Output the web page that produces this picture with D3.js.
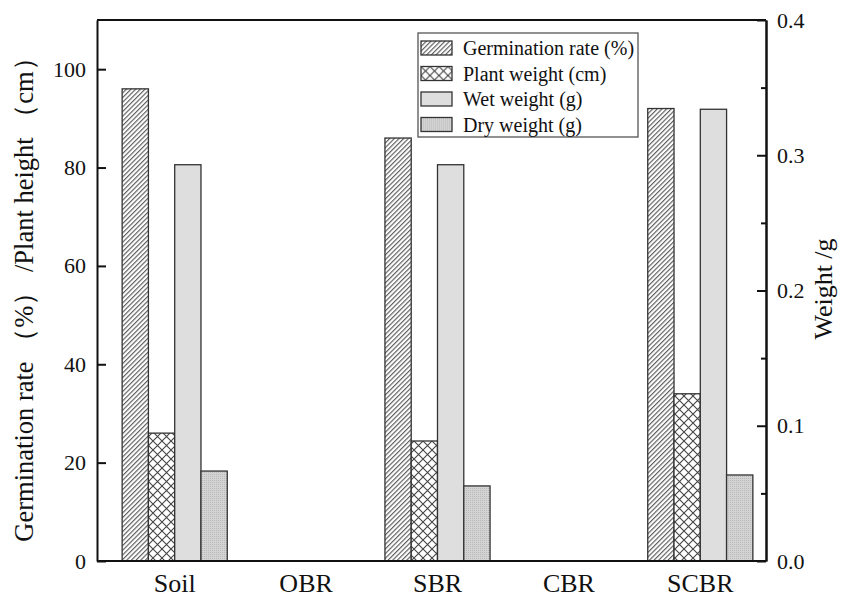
<!DOCTYPE html>
<html>
<head>
<meta charset="utf-8">
<script src="https://cdn.jsdelivr.net/npm/d3@7"></script>
<style>
  body { margin: 0; background: #fff; }
  text { font-family: "Liberation Serif", "Times New Roman", serif; }
</style>
</head>
<body>
<div id="chart"></div>
<script>
// 数据
const categories = ["Soil", "OBR", "SBR", "CBR", "SCBR"];
const seriesNames = ["Germination rate (%)", "Plant weight (cm)", "Wet weight (g)", "Dry weight (g)"];
const germination = [96, 0, 86, 0, 92];
const plantHeight = [26, 0, 24.4, 0, 34];
const wetWeight = [0.293, 0, 0.293, 0, 0.334];
const dryWeight = [0.0665, 0, 0.0555, 0, 0.0636];
const leftTicks = [0, 20, 40, 60, 80, 100];
const rightTicks = [0, 0.1, 0.2, 0.3, 0.4];
const rightMinor = [0.05, 0.15, 0.25, 0.35];

function drawChart() {
    const width = 843, height = 598;
    const L = 97, R = 766, T = 20, B = 561;

    const svg = d3.select("#chart").append("svg")
        .attr("width", width).attr("height", height);

    // 填充图案
    const defs = svg.append("defs");
    const hatch = defs.append("pattern").attr("id", "hatch")
        .attr("patternUnits", "userSpaceOnUse").attr("width", 3.3).attr("height", 10)
        .attr("patternTransform", "rotate(45)");
    hatch.append("rect").attr("width", 3.3).attr("height", 10).attr("fill", "#fff");
    hatch.append("line").attr("x1", 0.6).attr("y1", 0).attr("x2", 0.6).attr("y2", 10)
        .attr("stroke", "#555").attr("stroke-width", 1.1);

    const cross = defs.append("pattern").attr("id", "cross")
        .attr("patternUnits", "userSpaceOnUse").attr("width", 9).attr("height", 9);
    cross.append("rect").attr("width", 9).attr("height", 9).attr("fill", "#fff");
    cross.append("path").attr("d", "M0,0L9,9M9,0L0,9")
        .attr("stroke", "#444").attr("stroke-width", 1.1);

    const dots = defs.append("pattern").attr("id", "dots")
        .attr("patternUnits", "userSpaceOnUse").attr("width", 2).attr("height", 2);
    dots.append("rect").attr("width", 2).attr("height", 2).attr("fill", "#d4d4d4");
    dots.append("rect").attr("width", 1).attr("height", 1).attr("fill", "#b8b8b8");

    const fills = ["url(#hatch)", "url(#cross)", "#dedede", "url(#dots)"];

    const yL = d3.scaleLinear().domain([0, 110]).range([B, T]);
    const yR = d3.scaleLinear().domain([0, 0.4]).range([B, T]);

    const x = d3.scaleBand().domain(categories).range([L + 12, R]).padding(0);
    const xi = d3.scaleBand().domain(seriesNames).range([0, x.bandwidth()])
        .paddingInner(0).paddingOuter(0.5);

    const rows = [];
    categories.forEach((c, i) => {
        rows.push({ c, s: seriesNames[0], v: germination[i], y: yL });
        rows.push({ c, s: seriesNames[1], v: plantHeight[i], y: yL });
        rows.push({ c, s: seriesNames[2], v: wetWeight[i], y: yR });
        rows.push({ c, s: seriesNames[3], v: dryWeight[i], y: yR });
    });

    svg.selectAll(".bar")
        .data(rows.filter(d => d.v > 0))
        .enter().append("rect")
        .attr("class", "bar")
        .attr("x", d => x(d.c) + xi(d.s))
        .attr("y", d => d.y(d.v))
        .attr("width", xi.bandwidth())
        .attr("height", d => B - d.y(d.v))
        .attr("fill", d => fills[seriesNames.indexOf(d.s)])
        .attr("stroke", "#333")
        .attr("stroke-width", 1.3);

    // 坐标轴
    const gl = svg.append("g").attr("transform", `translate(${L},0)`)
        .call(d3.axisLeft(yL).tickValues(leftTicks).tickSizeInner(-9).tickSizeOuter(0).tickPadding(11));
    const gr = svg.append("g").attr("transform", `translate(${R},0)`)
        .call(d3.axisRight(yR).tickValues(rightTicks).tickFormat(d3.format(".1f"))
            .tickSizeInner(-9).tickSizeOuter(0).tickPadding(11));
    const gm = svg.append("g").attr("transform", `translate(${R},0)`)
        .call(d3.axisRight(yR).tickValues(rightMinor).tickFormat("").tickSizeInner(-5).tickSizeOuter(0));
    [gl, gr, gm].forEach(g => {
        g.selectAll("path").attr("stroke", "#111").attr("stroke-width", 2);
        g.selectAll("line").attr("stroke", "#111").attr("stroke-width", 2);
        g.selectAll("text").attr("fill", "#111").attr("font-size", "22px")
            .style("font-family", "Liberation Serif, serif");
    });

    const gb = svg.append("g").attr("transform", `translate(0,${B})`)
        .call(d3.axisBottom(x).tickSize(0).tickPadding(13));
    gb.select("path").attr("stroke", "#111").attr("stroke-width", 2)
        .attr("d", `M${L},0H${R}`);
    gb.selectAll("text").attr("fill", "#111").attr("font-size", "26px")
        .style("font-family", "Liberation Serif, serif");

    svg.append("line").attr("x1", L).attr("x2", R).attr("y1", T).attr("y2", T)
        .attr("stroke", "#111").attr("stroke-width", 2);

    // 轴标题
    svg.append("text")
        .attr("transform", "translate(33,293) rotate(-90)")
        .attr("text-anchor", "middle")
        .attr("font-size", "26.5px").attr("fill", "#111")
        .text("Germination rate （%） /Plant height （cm）");
    svg.append("text")
        .attr("transform", "translate(832,289) rotate(-90)")
        .attr("text-anchor", "middle")
        .attr("font-size", "26px").attr("fill", "#111")
        .text("Weight /g");

    // 图例
    const legend = svg.append("g").attr("transform", "translate(418,33)");
    legend.append("rect").attr("width", 220).attr("height", 104)
        .attr("fill", "#fff").attr("stroke", "#555").attr("stroke-width", 1.3);
    seriesNames.forEach((name, i) => {
        const row = legend.append("g").attr("transform", `translate(3,${8 + i * 25.5})`);
        row.append("rect").attr("width", 31).attr("height", 14)
            .attr("fill", fills[i]).attr("stroke", "#333").attr("stroke-width", 1.3);
        row.append("text").attr("x", 42).attr("y", 14)
            .attr("font-size", "20px").attr("fill", "#111").text(name);
    });
}

drawChart();
</script>
</body>
</html>
